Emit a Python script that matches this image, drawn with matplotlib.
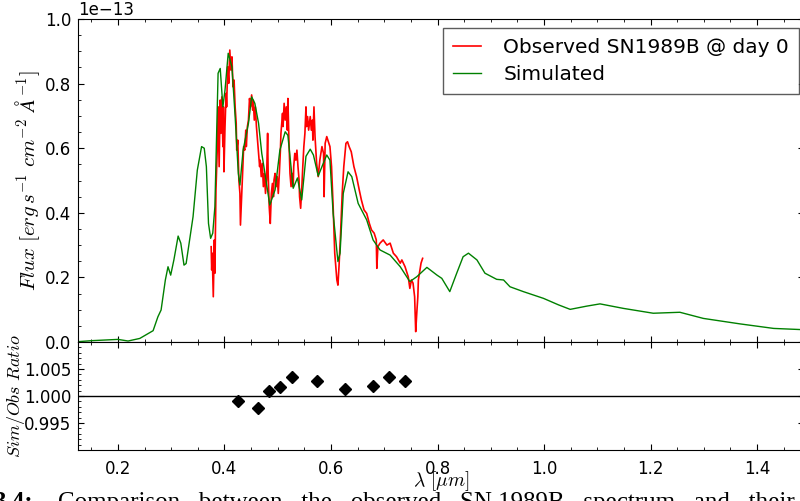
import matplotlib
matplotlib.use('Agg')
import matplotlib.pyplot as plt
from matplotlib.ticker import MultipleLocator

# Simulated spectrum (flux in units of 1e-13)
sim_wave = [0.125, 0.150, 0.200, 0.219, 0.241, 0.266, 0.275, 0.281, 0.289, 0.294,
            0.299, 0.305, 0.313, 0.318, 0.324, 0.328, 0.341, 0.349, 0.357, 0.362,
            0.366, 0.370, 0.374, 0.378, 0.382, 0.388, 0.392, 0.397, 0.401, 0.407,
            0.414, 0.420, 0.426, 0.429, 0.435, 0.445, 0.451, 0.457, 0.464, 0.470,
            0.476, 0.485, 0.495, 0.504, 0.514, 0.519, 0.529, 0.537, 0.545, 0.553,
            0.561, 0.567, 0.576, 0.583, 0.592, 0.598, 0.604, 0.613, 0.617, 0.623,
            0.632, 0.639, 0.651, 0.667, 0.679, 0.692, 0.711, 0.730, 0.748, 0.761,
            0.780, 0.799, 0.808, 0.823, 0.836, 0.848, 0.858, 0.874, 0.889, 0.911,
            0.924, 0.936, 0.961, 0.999, 1.027, 1.049, 1.080, 1.105, 1.149, 1.205,
            1.255, 1.299, 1.368, 1.431, 1.488]
sim_flux = [0.001, 0.004, 0.008, 0.003, 0.011, 0.035, 0.078, 0.099, 0.192, 0.233,
            0.207, 0.254, 0.328, 0.306, 0.238, 0.243, 0.388, 0.532, 0.605, 0.600,
            0.543, 0.367, 0.321, 0.337, 0.419, 0.832, 0.847, 0.728, 0.780, 0.894,
            0.852, 0.698, 0.522, 0.486, 0.594, 0.677, 0.759, 0.739, 0.677, 0.584,
            0.522, 0.424, 0.471, 0.594, 0.651, 0.640, 0.476, 0.508, 0.440, 0.575,
            0.597, 0.579, 0.514, 0.543, 0.579, 0.563, 0.398, 0.249, 0.275, 0.460,
            0.527, 0.512, 0.429, 0.378, 0.316, 0.285, 0.269, 0.233, 0.187, 0.202,
            0.231, 0.207, 0.197, 0.156, 0.213, 0.264, 0.275, 0.254, 0.213, 0.194,
            0.192, 0.171, 0.156, 0.135, 0.115, 0.101, 0.111, 0.118, 0.104, 0.089,
            0.092, 0.073, 0.056, 0.042, 0.038]

# Observed SN1989B spectrum (flux in units of 1e-13)
obs_wave = [0.375, 0.376, 0.377, 0.379, 0.381, 0.382, 0.384, 0.387, 0.388, 0.390,
            0.392, 0.393, 0.395, 0.397, 0.398, 0.399, 0.401, 0.403, 0.404, 0.406,
            0.408, 0.410, 0.412, 0.414, 0.416, 0.418, 0.420, 0.422, 0.423, 0.425,
            0.427, 0.429, 0.430, 0.432, 0.434, 0.436, 0.438, 0.440, 0.441, 0.443,
            0.445, 0.447, 0.449, 0.451, 0.453, 0.454, 0.456, 0.458, 0.460, 0.462,
            0.464, 0.466, 0.467, 0.469, 0.471, 0.473, 0.475, 0.477, 0.479, 0.481,
            0.482, 0.484, 0.486, 0.488, 0.490, 0.492, 0.493, 0.495, 0.497, 0.499,
            0.501, 0.503, 0.505, 0.506, 0.509, 0.510, 0.512, 0.514, 0.516, 0.518,
            0.519, 0.521, 0.523, 0.525, 0.527, 0.529, 0.530, 0.532, 0.534, 0.536,
            0.538, 0.540, 0.541, 0.543, 0.545, 0.547, 0.549, 0.551, 0.553, 0.554,
            0.556, 0.558, 0.561, 0.563, 0.565, 0.566, 0.568, 0.570, 0.573, 0.576,
            0.579, 0.583, 0.586, 0.587, 0.589, 0.592, 0.595, 0.598, 0.601, 0.604,
            0.607, 0.611, 0.613, 0.615, 0.618, 0.621, 0.624, 0.628, 0.631, 0.634,
            0.638, 0.643, 0.648, 0.653, 0.657, 0.662, 0.667, 0.672, 0.676, 0.681,
            0.685, 0.686, 0.688, 0.692, 0.698, 0.705, 0.711, 0.717, 0.723, 0.730,
            0.733, 0.739, 0.745, 0.748, 0.751, 0.754, 0.757, 0.759, 0.761, 0.763,
            0.764, 0.767, 0.769, 0.772]
obs_flux = [0.295, 0.223, 0.275, 0.140, 0.316, 0.213, 0.471, 0.625, 0.728, 0.543,
            0.749, 0.646, 0.759, 0.605, 0.728, 0.527, 0.667, 0.770, 0.728, 0.852,
            0.801, 0.904, 0.842, 0.883, 0.790, 0.811, 0.728, 0.677, 0.594, 0.625,
            0.502, 0.460, 0.362, 0.440, 0.522, 0.605, 0.594, 0.656, 0.605, 0.667,
            0.687, 0.754, 0.728, 0.765, 0.718, 0.749, 0.687, 0.728, 0.667, 0.625,
            0.584, 0.543, 0.563, 0.512, 0.553, 0.481, 0.522, 0.460, 0.502, 0.646,
            0.522, 0.419, 0.367, 0.460, 0.491, 0.450, 0.502, 0.522, 0.481, 0.512,
            0.460, 0.522, 0.594, 0.646, 0.708, 0.667, 0.739, 0.687, 0.728, 0.656,
            0.754, 0.625, 0.522, 0.481, 0.522, 0.481, 0.543, 0.584, 0.563, 0.594,
            0.543, 0.502, 0.450, 0.414, 0.471, 0.543, 0.605, 0.646, 0.728, 0.667,
            0.698, 0.656, 0.698, 0.656, 0.687, 0.625, 0.728, 0.636, 0.553, 0.512,
            0.563, 0.605, 0.584, 0.450, 0.615, 0.636, 0.620, 0.605, 0.543, 0.419,
            0.275, 0.192, 0.176, 0.233, 0.337, 0.460, 0.543, 0.615, 0.620, 0.605,
            0.589, 0.543, 0.512, 0.471, 0.440, 0.409, 0.398, 0.367, 0.347, 0.337,
            0.316, 0.228, 0.295, 0.306, 0.316, 0.300, 0.306, 0.275, 0.264, 0.244,
            0.254, 0.233, 0.202, 0.166, 0.192, 0.182, 0.140, 0.032, 0.089, 0.140,
            0.192, 0.223, 0.244, 0.259]

# Sim/Obs ratio points
ratio_wave = [0.425, 0.463, 0.484, 0.505, 0.527, 0.574, 0.626, 0.679, 0.708, 0.738]
ratio_val = [0.9991, 0.9978, 1.0010, 1.0016, 1.0035, 1.0028, 1.0013, 1.0019, 1.0035, 1.0028]

plt.rcParams['mathtext.fontset'] = 'cm'
plt.rcParams['font.size'] = 12
plt.rcParams['xtick.direction'] = 'in'
plt.rcParams['ytick.direction'] = 'in'
plt.rcParams['xtick.top'] = True
plt.rcParams['ytick.right'] = True
plt.rcParams['xtick.major.size'] = 4
plt.rcParams['ytick.major.size'] = 4
plt.rcParams['xtick.minor.size'] = 2
plt.rcParams['ytick.minor.size'] = 2
plt.rcParams['xtick.major.pad'] = 7
plt.rcParams['ytick.major.pad'] = 5

fig = plt.figure(figsize=(8.0, 5.01), dpi=100)
ax = fig.add_axes([0.0975, 0.3174, 0.9075, 0.6446])
ax2 = fig.add_axes([0.0975, 0.1018, 0.9075, 0.2156], sharex=ax)

ax.plot(obs_wave, [v * 1e-13 for v in obs_flux], color='red', lw=1.2,
        label='Observed SN1989B @ day 0')
ax.plot(sim_wave, [v * 1e-13 for v in sim_flux], color='green', lw=1.0,
        label='Simulated')
ax.set_xlim(0.125, 1.488)
ax.set_ylim(0, 1.0e-13)
ax.yaxis.set_major_locator(MultipleLocator(0.2e-13))
ax.yaxis.set_minor_locator(MultipleLocator(0.05e-13))
ax.xaxis.set_major_locator(MultipleLocator(0.2))
ax.xaxis.set_minor_locator(MultipleLocator(0.05))
ax.tick_params(labelbottom=False)
ax.set_ylabel(r'$Flux\ [erg\,s^{-1}\ cm^{-2}\ \AA^{-1}]$', fontsize=15)
ax.yaxis.set_label_coords(-0.050, 0.5)
leg = ax.legend(loc='upper right', bbox_to_anchor=(0.999, 0.944),
                bbox_transform=fig.transFigure, borderaxespad=0, fontsize=14.5,
                fancybox=False, handlelength=1.4, handletextpad=1.1,
                borderpad=0.5, labelspacing=0.4)
leg.get_frame().set_edgecolor('#333333')

ax2.plot(ratio_wave, ratio_val, 'D', color='black', markersize=6)
ax2.axhline(1.0, color='black', lw=1.0)
ax2.set_ylim(0.990, 1.010)
ax2.set_yticks([0.995, 1.000, 1.005])
ax2.yaxis.set_minor_locator(MultipleLocator(0.001))
ax2.set_ylabel(r'$Sim/Obs\ Ratio$', fontsize=13)
ax2.yaxis.set_label_coords(-0.070, 0.5)
ax2.set_xlabel(r'$\lambda\ [\mu m]$', fontsize=14, labelpad=-6)

# caption of the thesis figure, cut off at the bottom edge
fig.text(-0.008, -0.016, '3.4:', fontsize=18, fontweight='bold',
         family='Liberation Serif', va='baseline', ha='left')
fig.text(0.073, -0.016, 'Comparison   between   the   observed   SN 1989B   spectrum   and   their',
         fontsize=18, family='Liberation Serif', va='baseline', ha='left')

fig.savefig('out.png', dpi=100)
